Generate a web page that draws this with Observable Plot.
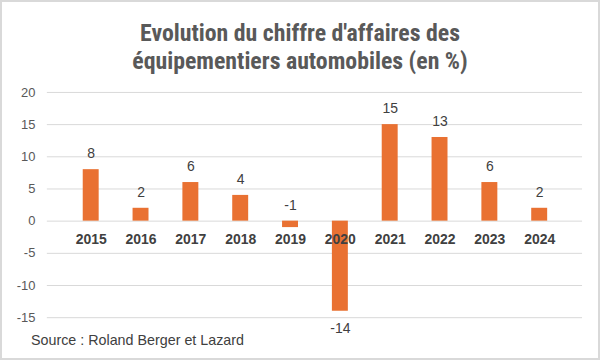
<!DOCTYPE html>
<html>
<head>
<meta charset="utf-8">
<script src="https://cdn.jsdelivr.net/npm/d3@7"></script>
<script src="https://cdn.jsdelivr.net/npm/@observablehq/plot@0.6"></script>
<style>
  html, body { margin: 0; padding: 0; background: #fff; }
  #wrap { position: relative; width: 600px; height: 360px; box-sizing: border-box; border: 2px solid #d9d9d9; background: #fff; overflow: hidden; }
  #title { position: absolute; left: 0; top: 17px; width: 596px; text-align: center; font-family: "Liberation Sans Narrow", "Roboto", sans-serif; font-stretch: condensed; font-weight: bold; font-size: 23.8px; line-height: 28px; color: #595959; }
  #chart { position: absolute; left: -2px; top: 73px; }
  #caption { position: absolute; left: 29px; top: 330px; font-family: "Liberation Sans", Arial, sans-serif; font-size: 14.3px; color: #404040; }
</style>
</head>
<body>
<div id="wrap">
  <div id="title">Evolution du chiffre d'affaires des<br>équipementiers automobiles (en %)</div>
  <div id="chart"></div>
  <div id="caption">Source : Roland Berger et Lazard</div>
</div>
<script>
const years = ["2015","2016","2017","2018","2019","2020","2021","2022","2023","2024"];
const values = [8, 2, 6, 4, -1, -14, 15, 13, 6, 2];
const yTicks = [-15, -10, -5, 0, 5, 10, 15, 20];

const data = years.map((y, i) => ({year: y, value: values[i]}));
const pos = data.filter(d => d.value > -5);
const neg = data.filter(d => d.value <= -5);

const chart = Plot.plot({
  width: 600,
  height: 280,
  marginTop: 17,
  marginBottom: 37,
  marginLeft: 47,
  marginRight: 16,
  style: {fontFamily: "Liberation Sans, Arial, sans-serif", fontSize: "13px", color: "#595959"},
  x: {domain: years, padding: 0.68, axis: null},
  y: {domain: [-15, 20], ticks: yTicks, label: null, tickSize: 0, tickPadding: 12, tickFormat: d => String(d)},
  marks: [
    Plot.gridY(yTicks, {stroke: "#d9d9d9", strokeOpacity: 1, strokeWidth: 1}),
    Plot.barY(data, {x: "year", y: "value", fill: "#E97132"}),
    Plot.text(data, {x: "year", y: 0, text: "year", dy: 18, fontWeight: "bold", fontSize: 14, fill: "#404040"}),
    Plot.text(pos, {x: "year", y: d => Math.max(d.value, 0), text: d => String(d.value), dy: -16, fontSize: 14, fill: "#404040"}),
    Plot.text(neg, {x: "year", y: "value", text: d => String(d.value), dy: 17, fontSize: 14, fill: "#404040"})
  ]
});
document.getElementById("chart").appendChild(chart);
</script>
</body>
</html>
